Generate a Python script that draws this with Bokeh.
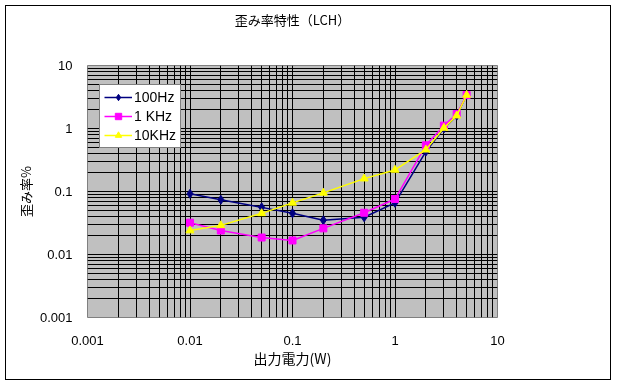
from bokeh.plotting import figure
from bokeh.models import FixedTicker, CustomJSTickFormatter, Legend, LegendItem
from bokeh.embed import file_html
from bokeh.resources import INLINE

# data
power_w = [0.01, 0.02, 0.05, 0.1, 0.2, 0.5, 1, 2, 3, 4, 5]
thd_100hz = [0.092, 0.074, 0.056, 0.045, 0.035, 0.039, 0.066, 0.43, 1.0, 1.6, 3.4]
thd_1khz = [0.032, 0.024, 0.0186, 0.0167, 0.026, 0.046, 0.076, 0.54, 1.11, 1.7, 3.4]
thd_10khz = [0.024, 0.029, 0.045, 0.066, 0.095, 0.16, 0.22, 0.46, 1.02, 1.6, 3.4]
series_names = ["100Hz", "1 KHz", "10KHz"]
major_ticks = [0.001, 0.01, 0.1, 1, 10]
title_text = "歪み率特性（LCH）"

minor_ticks = [d * k for d in major_ticks[:-1] for k in range(2, 10)]

CJK = "Noto Sans CJK JP"
NUM = "Liberation Sans"

p = figure(width=606, height=375, x_axis_type="log", y_axis_type="log",
           x_range=(0.001, 10), y_range=(0.001, 10),
           output_backend="svg", toolbar_location=None,
           min_border_left=81, min_border_right=115,
           min_border_top=57, min_border_bottom=64,
           title=title_text + "\n ")
p.styles = {"position": "fixed", "left": "5px", "top": "5px",
            "border": "1px solid black"}
p.border_fill_color = "white"
p.outline_line_color = "#808080"
p.outline_line_width = 1
p.background_fill_color = "#C0C0C0"

p.title.align = "center"
p.title.offset = 23
p.title.standoff = 4
p.title.text_line_height = 1.8
p.title.text_font = CJK
p.title.text_font_size = "13px"
p.title.text_font_style = "normal"
p.title.text_color = "black"

for ax in (p.xaxis[0], p.yaxis[0]):
    ax.ticker = FixedTicker(ticks=major_ticks, minor_ticks=minor_ticks)
    ax.formatter = CustomJSTickFormatter(code="return tick.toString();")
    ax.major_tick_line_color = None
    ax.minor_tick_line_color = None
    ax.axis_line_color = None
    ax.major_label_text_font = NUM
    ax.major_label_text_font_size = "13px"
    ax.major_label_text_color = "black"
    ax.axis_label_text_font = CJK
    ax.axis_label_text_font_size = "13px"
    ax.axis_label_text_font_style = "normal"
    ax.axis_label_text_color = "black"

p.xaxis.axis_label = "出力電力(W)"
p.xaxis.axis_label_text_font_size = "14px"
p.yaxis.axis_label = "歪み率%"
p.xaxis.major_label_standoff = 12
p.xaxis.axis_label_standoff = 0
p.yaxis.major_label_standoff = 9
p.yaxis.axis_label_standoff = 2

for g in (p.xgrid[0], p.ygrid[0]):
    g.grid_line_color = "black"
    g.grid_line_width = 1
    g.minor_grid_line_color = "black"
    g.minor_grid_line_width = 1

colors = ["#000080", "#FF00FF", "#FFFF00"]
markers = ["diamond", "square", "triangle"]
sizes = [9, 7, 8]
series = [thd_100hz, thd_1khz, thd_10khz]
items = []
for name, ys, c, m, s in zip(series_names, series, colors, markers, sizes):
    l = p.line(power_w, ys, line_color=c, line_width=1.5)
    sc = p.scatter(power_w, ys, marker=m, size=s, fill_color=c, line_color=c)
    items.append(LegendItem(label=name, renderers=[l, sc]))

legend = Legend(items=items, location=(12, 169))
legend.border_line_color = "black"
legend.border_line_width = 1
legend.background_fill_color = "white"
legend.background_fill_alpha = 1
legend.label_text_font = NUM
legend.label_text_font_size = "14px"
legend.label_text_color = "black"
legend.glyph_width = 28
legend.glyph_height = 16
legend.label_height = 16
legend.label_standoff = 2
legend.spacing = 3
legend.padding = 4
legend.margin = 0
p.add_layout(legend, "center")

open("out.html", "w").write(file_html(p, INLINE))
